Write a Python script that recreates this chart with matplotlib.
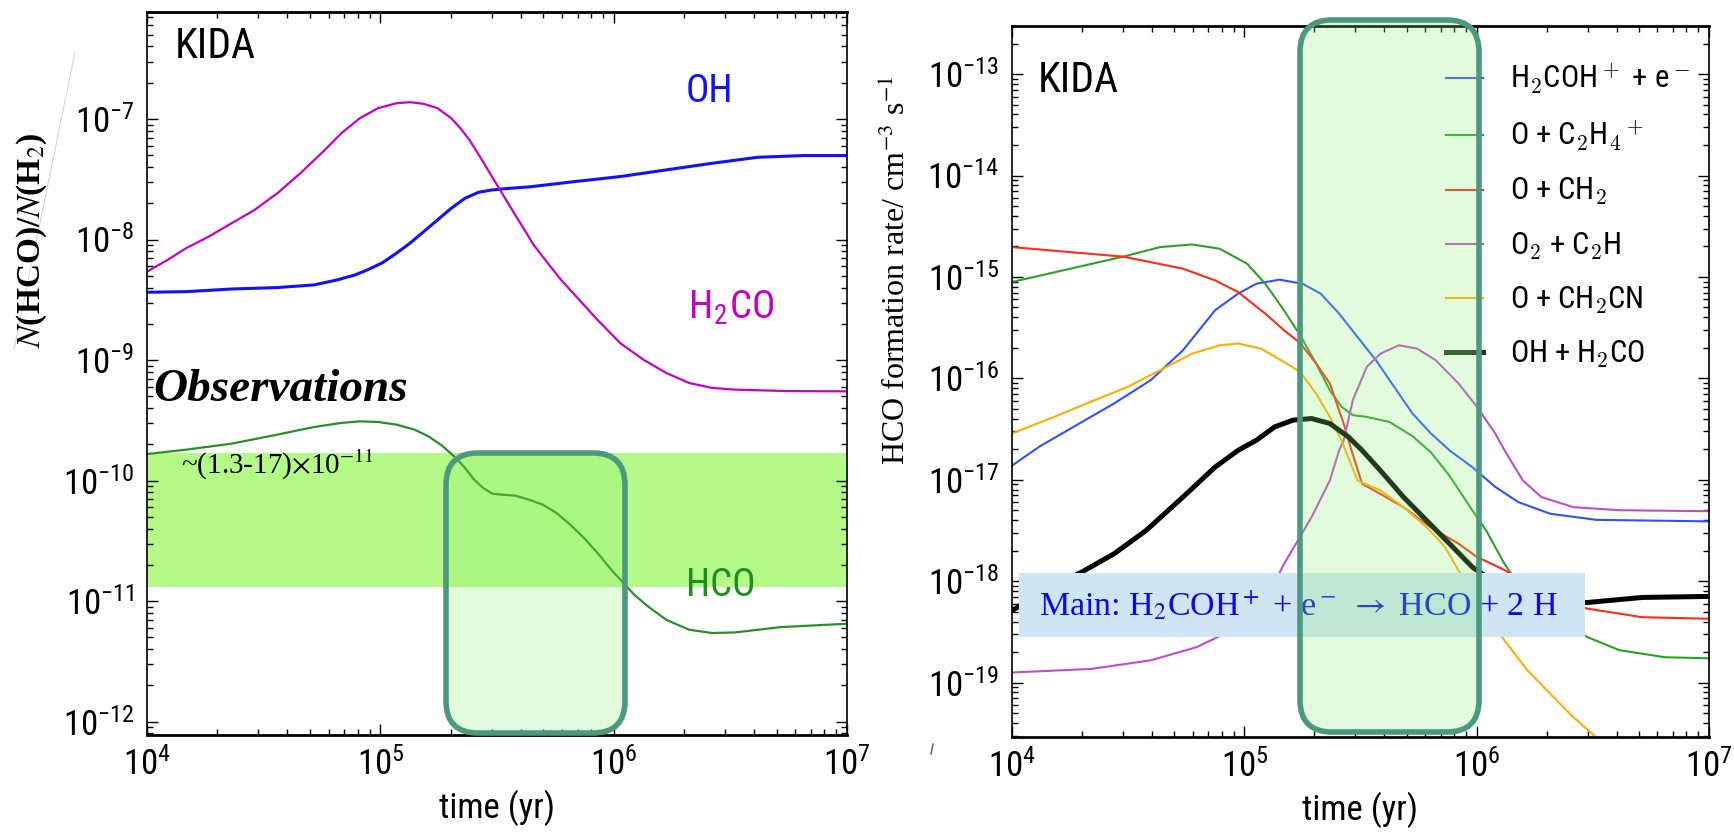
import numpy as np
import matplotlib
matplotlib.use('Agg')
import matplotlib.pyplot as plt
from matplotlib.patches import FancyBboxPatch, Rectangle
from matplotlib.lines import Line2D
from matplotlib.transforms import IdentityTransform
from matplotlib import font_manager

# ---------------- data: left panel, log10(t / yr) and log10 N(X)/N(H2) ----------------
lt_oh = [4.0, 4.167, 4.363, 4.559, 4.716, 4.814, 4.892, 4.951, 5.01, 5.069, 5.127, 5.186,
         5.245, 5.304, 5.363, 5.422, 5.48, 5.539, 5.637, 5.833, 6.029, 6.225, 6.422, 6.618,
         6.814, 7.0]
la_oh = [-8.437, -8.432, -8.41, -8.398, -8.376, -8.335, -8.293, -8.246, -8.191, -8.113,
         -8.03, -7.934, -7.837, -7.74, -7.657, -7.607, -7.588, -7.577, -7.563, -7.519,
         -7.477, -7.422, -7.367, -7.317, -7.303, -7.303]

lt_h2co = [4.0, 4.088, 4.167, 4.265, 4.363, 4.461, 4.559, 4.657, 4.755, 4.833, 4.912, 4.99,
           5.069, 5.127, 5.186, 5.245, 5.304, 5.343, 5.382, 5.422, 5.461, 5.5, 5.539, 5.578,
           5.618, 5.657, 5.696, 5.735, 5.775, 5.814, 5.853, 5.892, 5.931, 6.029, 6.127,
           6.225, 6.324, 6.42, 6.52, 6.75, 7.0]
la_h2co = [-8.266, -8.169, -8.072, -7.975, -7.864, -7.754, -7.615, -7.45, -7.27, -7.118,
           -6.993, -6.91, -6.869, -6.86, -6.874, -6.91, -6.993, -7.076, -7.173, -7.297,
           -7.422, -7.546, -7.671, -7.795, -7.92, -8.044, -8.141, -8.238, -8.335, -8.418,
           -8.501, -8.584, -8.667, -8.86, -8.996, -9.106, -9.19, -9.23, -9.245, -9.257,
           -9.259]

lt_hco = [4.0, 4.167, 4.363, 4.559, 4.716, 4.833, 4.912, 4.99, 5.069, 5.147, 5.206, 5.265,
          5.324, 5.363, 5.402, 5.441, 5.48, 5.52, 5.578, 5.637, 5.696, 5.755, 5.814, 5.873,
          5.931, 5.99, 6.029, 6.088, 6.147, 6.225, 6.324, 6.422, 6.52, 6.716, 7.0]
la_hco = [-9.779, -9.743, -9.693, -9.618, -9.555, -9.521, -9.508, -9.513, -9.535, -9.577,
          -9.632, -9.71, -9.812, -9.895, -9.992, -10.061, -10.108, -10.116, -10.124, -10.158,
          -10.199, -10.268, -10.365, -10.476, -10.6, -10.739, -10.822, -10.946, -11.043,
          -11.154, -11.237, -11.264, -11.259, -11.215, -11.187]

obs_lo, obs_hi = 1.3e-11, 1.7e-10

# ---------------- data: right panel, log10(t / yr) and log10 rate ----------------
lt_blue = [4.0, 4.12, 4.241, 4.439, 4.597, 4.736, 4.874, 4.973, 5.052, 5.151, 5.25, 5.329,
           5.408, 5.487, 5.566, 5.645, 5.724, 5.803, 5.883, 5.981, 6.08, 6.179, 6.317,
           6.515, 7.0]
lr_blue = [-16.86, -16.67, -16.51, -16.248, -16.018, -15.723, -15.329, -15.165, -15.067,
           -15.027, -15.067, -15.165, -15.362, -15.592, -15.82, -16.084, -16.347, -16.543,
           -16.71, -16.875, -17.07, -17.22, -17.335, -17.395, -17.41]

lt_green = [4.0, 4.479, 4.637, 4.775, 4.894, 5.012, 5.09, 5.171, 5.24, 5.309, 5.368, 5.418,
            5.467, 5.527, 5.625, 5.724, 5.803, 5.883, 5.981, 6.041, 6.12, 6.2, 6.3, 6.476,
            6.614, 6.812, 7.0]
lr_green = [-15.05, -14.8, -14.706, -14.68, -14.722, -14.87, -15.067, -15.33, -15.575,
            -15.854, -16.117, -16.28, -16.363, -16.38, -16.43, -16.57, -16.73, -16.96, -17.3,
            -17.5, -17.83, -18.1, -18.33, -18.55, -18.68, -18.75, -18.76]

lt_red = [4.0, 4.479, 4.736, 4.874, 4.973, 5.09, 5.171, 5.24, 5.309, 5.368, 5.428, 5.46,
          5.507, 5.586, 5.685, 5.803, 5.922, 6.001, 6.12, 6.3, 6.476, 6.713, 7.0]
lr_red = [-14.706, -14.8, -14.919, -15.034, -15.149, -15.362, -15.526, -15.651, -15.854,
          -16.05, -16.45, -16.7, -17.04, -17.14, -17.27, -17.47, -17.63, -17.76, -17.89,
          -18.15, -18.27, -18.355, -18.37]

lt_mag = [4.0, 4.34, 4.597, 4.795, 4.913, 5.0, 5.1, 5.171, 5.23, 5.289, 5.368, 5.408, 5.428,
          5.467, 5.527, 5.586, 5.665, 5.744, 5.823, 5.922, 6.001, 6.08, 6.12, 6.199, 6.278,
          6.416, 6.614, 7.0]
lr_mag = [-18.9, -18.865, -18.78, -18.65, -18.52, -18.4, -18.15, -17.83, -17.6, -17.37,
          -17.007, -16.71, -16.61, -16.215, -15.887, -15.756, -15.674, -15.707, -15.82,
          -16.05, -16.28, -16.543, -16.71, -17.007, -17.17, -17.27, -17.3, -17.31]

lt_orange = [4.0, 4.182, 4.34, 4.498, 4.637, 4.775, 4.894, 4.973, 5.072, 5.171, 5.24, 5.309,
             5.368, 5.418, 5.487, 5.586, 5.685, 5.784, 5.863, 5.922, 6.02, 6.12, 6.219,
             6.317, 6.416, 6.505, 6.6]
lr_orange = [-16.543, -16.38, -16.23, -16.084, -15.92, -15.756, -15.674, -15.657, -15.707,
             -15.838, -15.936, -16.15, -16.38, -16.61, -17.007, -17.105, -17.27, -17.467,
             -17.66, -17.895, -18.25, -18.585, -18.88, -19.11, -19.34, -19.52, -19.75]

lt_black = [4.0, 4.142, 4.3, 4.439, 4.577, 4.736, 4.874, 4.973, 5.052, 5.131, 5.21, 5.289,
            5.368, 5.447, 5.507, 5.586, 5.685, 5.784, 5.883, 5.981, 6.1, 6.25, 6.476, 6.713,
            7.0]
lr_black = [-18.29, -18.09, -17.91, -17.73, -17.5, -17.17, -16.875, -16.71, -16.61, -16.478,
            -16.412, -16.396, -16.445, -16.576, -16.71, -16.91, -17.17, -17.4, -17.63, -17.86,
            -18.05, -18.18, -18.21, -18.16, -18.15]

labels_right = [r'H$_2$COH$^+$ + e$^-$', r'O + C$_2$H$_4$$^+$', r'O + CH$_2$',
                r'O$_2$ + C$_2$H', r'O + CH$_2$CN', r'OH + H$_2$CO']
colors_right = ['#3050ff', '#2ca02c', '#ff2a1a', '#c04cc8', '#ffae00', '#000000']
series_right = [(lt_blue, lr_blue), (lt_green, lr_green), (lt_red, lr_red),
                (lt_mag, lr_mag), (lt_orange, lr_orange), (lt_black, lr_black)]

# ---------------- fonts: the chart text is a horizontally squeezed sans ----------------
cond = [f.fname for f in font_manager.fontManager.ttflist
        if f.fname.endswith('DejaVuSansCondensed.ttf')]
if cond:
    font_manager.fontManager.ttflist.append(font_manager.FontEntry(
        fname=cond[0], name='DejaVu Sans Cond', style='normal', variant='normal',
        weight=400, stretch='normal', size='scalable'))
plt.rcParams['font.family'] = ['Roboto Condensed', 'DejaVu Sans Cond', 'DejaVu Sans']
plt.rcParams['mathtext.fontset'] = 'cm'
plt.rcParams['axes.unicode_minus'] = False
plt.rcParams['xtick.direction'] = 'in'
plt.rcParams['ytick.direction'] = 'in'
serif = ['Liberation Serif', 'DejaVu Serif']

W, H = 1734, 835
fig = plt.figure(figsize=(W / 100, H / 100), dpi=100)


def ax_rect(x0, x1, ytop, ybot):
    return [x0 / W, 1 - ybot / H, (x1 - x0) / W, (ybot - ytop) / H]


def fx(x):
    return x / W


def fy(y):
    return 1 - y / H


def style_axes(ax):
    ax.set_xscale('log')
    ax.set_yscale('log')
    ax.set_xlim(1e4, 1e7)
    ax.tick_params(which='both', top=True, right=True, labelsize=25, width=1.0)
    ax.tick_params(which='major', length=8, pad=9)
    ax.tick_params(which='minor', length=4.5)
    for s in ['top', 'bottom']:
        ax.spines[s].set_linewidth(2.0)
    for s in ['left', 'right']:
        ax.spines[s].set_linewidth(1.2)
    ax.set_xlabel('time (yr)', fontsize=25, labelpad=5)


def pw(v):
    return 10 ** np.array(v)


# ---------------- left panel ----------------
ax1 = fig.add_axes(ax_rect(147, 847, 12, 735))
style_axes(ax1)
ax1.set_ylim(10 ** -12.11, 10 ** -6.112)
ax1.axhspan(obs_lo, obs_hi, color='#b5fa86', zorder=0.5, lw=0)
ax1.plot(pw(lt_oh), pw(la_oh), color='#1010ff', lw=2.2, solid_joinstyle='round')
ax1.plot(pw(lt_h2co), pw(la_h2co), color='#c800c8', lw=1.6, solid_joinstyle='round')
ax1.plot(pw(lt_hco), pw(la_hco), color='#2a8f2a', lw=1.6, solid_joinstyle='round')

fig.text(fx(175), fy(47), 'KIDA', fontsize=30, va='center')
fig.text(fx(686), fy(91), 'OH', fontsize=28, color='#1010ff', va='center')
fig.text(fx(688), fy(308), r'H$_\mathregular{2}$CO', fontsize=28, color='#c800c8', va='center')
fig.text(fx(686), fy(585), 'HCO', fontsize=28, color='#1f8f1f', va='center')

# ---------------- right panel ----------------
ax2 = fig.add_axes(ax_rect(1012, 1709, 26, 737))
style_axes(ax2)
ax2.set_ylim(10 ** -19.536, 10 ** -12.526)
for (lt, lr), c, lab in zip(series_right, colors_right, labels_right):
    lw = 3.6 if c == '#000000' else 1.5
    ax2.plot(pw(lt), pw(lr), color=c, lw=lw, label=lab, solid_joinstyle='round')
leg = ax2.legend(loc='upper left', bbox_to_anchor=((1446 - 1012) / 697, (737 - 62) / 711),
                 frameon=False, fontsize=22, handlelength=1.2, handletextpad=0.9,
                 labelspacing=0.75, borderpad=0, borderaxespad=0)
leg.legend_handles[5].set_color('#1f3320')
fig.text(fx(1038), fy(81), 'KIDA', fontsize=30, va='center')

# ---------------- annotations (figure level, pixel coords) ----------------
ident = IdentityTransform()

fig.text(fx(32), fy(240), r'$\mathit{N}$(HCO)/$\mathit{N}$(H$_2$)', rotation=90,
         ha='center', va='center', fontsize=24, family=serif, fontweight='bold',
         math_fontfamily='stix')
fig.text(fx(896), fy(270), r'HCO formation rate/ cm$^{-3}$ s$^{-1}$', rotation=90,
         ha='center', va='center', fontsize=23, family=serif, math_fontfamily='stix')
fig.text(fx(153), fy(390), 'Observations', fontsize=34, family=serif, fontweight='bold',
         style='italic', va='center')
fig.text(fx(181), fy(465), r'~(1.3-17)$\times$10$^{-11}$', fontsize=21, family=serif,
         va='center', math_fontfamily='stix')

# text box of the main reaction
fig.add_artist(Rectangle((1019, H - 637), 566, 64, transform=ident,
                         facecolor='#cfe5f3', edgecolor='none', zorder=2))
fig.text(fx(1039), fy(605), r'Main: H$_2$COH$^+$ + e$^-$ $\rightarrow$ HCO + 2 H', fontsize=24.5,
         family=serif, color='#0a0aee', va='center', math_fontfamily='stix', zorder=2.5)

# highlighted time windows
for x0, x1, y0, y1 in [(446, 625, 453, 733), (1300, 1479, 20, 732)]:
    fig.add_artist(FancyBboxPatch((x0, H - y1), x1 - x0, y1 - y0, transform=ident,
                                  boxstyle='round,pad=0,rounding_size=32',
                                  facecolor=(0.55, 0.94, 0.47, 0.25),
                                  edgecolor='#4b9a80', lw=4.0, zorder=3))

# faint scan artefacts
fig.add_artist(Line2D([14, 75], [H - 350, H - 52], transform=ident, color='#d4d4d4', lw=0.8))
fig.add_artist(Line2D([931, 933], [H - 754, H - 744], transform=ident, color='#555555', lw=1.0))

fig.savefig('out.png', dpi=100)
